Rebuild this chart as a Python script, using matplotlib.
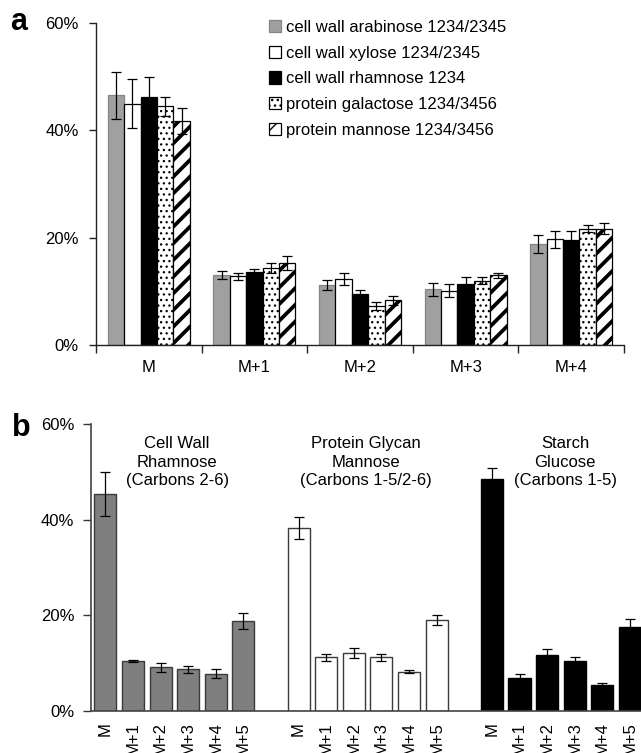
import numpy as np
import matplotlib
matplotlib.use("Agg")
import matplotlib.pyplot as plt
from matplotlib.ticker import FixedLocator, FuncFormatter

plt.rcParams['font.family'] = ['Liberation Sans', 'DejaVu Sans']

# ---- panel a: isotopomer distribution of five sugars ----
mass_a = ["M", "M+1", "M+2", "M+3", "M+4"]
series_a = ["cell wall arabinose 1234/2345",
            "cell wall xylose 1234/2345",
            "cell wall rhamnose 1234",
            "protein galactose 1234/3456",
            "protein mannose 1234/3456"]
arabinose = [46.5, 13.0, 11.2, 10.4, 18.8]
arabinose_err = [4.4, 0.7, 0.9, 1.2, 1.7]
xylose = [45.0, 12.8, 12.3, 10.1, 19.7]
xylose_err = [4.6, 0.7, 1.1, 1.2, 1.6]
rhamnose = [46.2, 13.6, 9.5, 11.4, 19.5]
rhamnose_err = [3.7, 0.5, 0.8, 1.2, 1.7]
galactose = [44.5, 14.3, 7.3, 12.0, 21.7]
galactose_err = [1.8, 0.9, 0.7, 0.6, 0.6]
mannose_a = [41.7, 15.2, 8.3, 13.0, 21.7]
mannose_a_err = [2.4, 1.3, 0.8, 0.5, 1.1]

# ---- panel b: M..M+5 distributions of three pools ----
mass_b = ["M", "M+1", "M+2", "M+3", "M+4", "M+5"]
groups_b = ["Cell Wall\nRhamnose\n(Carbons 2-6)",
            "Protein Glycan\nMannose\n(Carbons 1-5/2-6)",
            "Starch\nGlucose\n(Carbons 1-5)"]
rham_b = [45.4, 10.5, 9.1, 8.7, 7.8, 18.8]
rham_b_err = [4.6, 0.2, 1.0, 0.8, 1.0, 1.7]
mann_b = [38.2, 11.2, 12.1, 11.2, 8.2, 19.0]
mann_b_err = [2.3, 0.8, 1.0, 0.8, 0.3, 1.0]
gluc_b = [48.4, 7.0, 11.8, 10.4, 5.4, 17.6]
gluc_b_err = [2.4, 0.8, 1.2, 0.8, 0.4, 1.7]

W, H = 641, 753
fig = plt.figure(figsize=(W / 100, H / 100), dpi=100)


def px_axes(left, top, right, bottom):
    return fig.add_axes([left / W, 1 - bottom / H, (right - left) / W, (bottom - top) / H])


pct = FuncFormatter(lambda v, _: f"{v:.0f}%")
FS = 12

# ---------------- panel a ----------------
axa = px_axes(96, 23, 624, 345)
vals_a = [arabinose, xylose, rhamnose, galactose, mannose_a]
errs_a = [arabinose_err, xylose_err, rhamnose_err, galactose_err, mannose_a_err]
styles = [
    dict(facecolor="#a0a0a0", edgecolor="#858585", hatch=None, hlw=1.0),
    dict(facecolor="white", edgecolor="black", hatch=None, hlw=1.0),
    dict(facecolor="black", edgecolor="black", hatch=None, hlw=1.0),
    dict(facecolor="white", edgecolor="black", hatch="...", hlw=0.9),
    dict(facecolor="white", edgecolor="black", hatch="//", hlw=2.7),
]
bw = 0.155
x_a = np.arange(len(mass_a))
handles = []
for j, (v, e, st) in enumerate(zip(vals_a, errs_a, styles)):
    xs = x_a + 0.19 + j * bw
    plt.rcParams['hatch.linewidth'] = st["hlw"]
    bars = axa.bar(xs, v, width=bw, facecolor=st["facecolor"], edgecolor=st["edgecolor"],
                   hatch=st["hatch"], linewidth=0.9, label=series_a[j], zorder=2)
    for b in bars:
        if hasattr(b, "set_hatch_linewidth"):
            b.set_hatch_linewidth(st["hlw"])
    axa.errorbar(xs, v, yerr=e, fmt="none", ecolor="black", elinewidth=0.9,
                 capsize=3.5, capthick=0.9, zorder=3)
    handles.append(bars)

axa.set_xlim(0, len(mass_a))
axa.set_ylim(0, 60)
axa.yaxis.set_major_locator(FixedLocator([0, 20, 40, 60]))
axa.yaxis.set_major_formatter(pct)
axa.xaxis.set_major_locator(FixedLocator(np.arange(len(mass_a) + 1)))
axa.xaxis.set_major_formatter(FuncFormatter(lambda v, _: ""))
axa.xaxis.set_minor_locator(FixedLocator(x_a + 0.5))
axa.set_xticklabels(mass_a, minor=True)
axa.tick_params(axis="x", which="major", direction="out", length=6, width=1, color="#222222")
axa.tick_params(axis="x", which="minor", length=0, pad=11, labelsize=FS)
axa.tick_params(axis="y", direction="out", length=5, width=1, color="#222222", labelsize=FS, pad=7.5)
for s in ("top", "right"):
    axa.spines[s].set_visible(False)
for s in ("left", "bottom"):
    axa.spines[s].set_color("#222222")
    axa.spines[s].set_linewidth(1)

plt.rcParams['hatch.linewidth'] = 1.0
leg = axa.legend(handles=handles, loc="upper left",
                 bbox_to_anchor=(262 / W, 1 - 13 / H), bbox_transform=fig.transFigure,
                 frameon=False, fontsize=FS, handlelength=0.75, handleheight=0.75,
                 handletextpad=0.3, labelspacing=0.65, borderaxespad=0)

fig.text(10 / W, 1 - 22 / H, "a", fontsize=22, fontweight="bold", va="center", ha="left")

# ---------------- panel b ----------------
axb = px_axes(90.7, 424, 641, 711)
pos_start = [0, 7, 14]
vals_b = [rham_b, mann_b, gluc_b]
errs_b = [rham_b_err, mann_b_err, gluc_b_err]
fills_b = ["#7f7f7f", "white", "black"]
edges_b = ["#3a3a3a", "#3a3a3a", "black"]
title_x = [2.6, 9.45, 16.65]
ticks_b, labels_b = [], []
for g in range(3):
    xs = pos_start[g] + np.arange(len(mass_b))
    axb.bar(xs, vals_b[g], width=0.8, facecolor=fills_b[g], edgecolor=edges_b[g],
            linewidth=1.0, zorder=2)
    axb.errorbar(xs, vals_b[g], yerr=errs_b[g], fmt="none", ecolor="black",
                 elinewidth=0.9, capsize=3.5, capthick=0.9, zorder=3)
    axb.text(title_x[g], 57.5, groups_b[g], ha="center", va="top", fontsize=FS,
             linespacing=1.3)
    ticks_b.extend(xs)
    labels_b.extend(mass_b)

axb.set_xlim(-0.53, 19.4)
axb.set_ylim(0, 60)
axb.set_xticks(ticks_b)
axb.set_xticklabels(labels_b, rotation=90, fontsize=FS, va="top")
axb.tick_params(axis="x", length=0, pad=8)
axb.yaxis.set_major_locator(FixedLocator([0, 20, 40, 60]))
axb.yaxis.set_major_formatter(pct)
axb.tick_params(axis="y", direction="out", length=6, width=1, color="#333333", labelsize=FS, pad=5.8)
for s in ("top", "right"):
    axb.spines[s].set_visible(False)
for s in ("left", "bottom"):
    axb.spines[s].set_color("#444444")
    axb.spines[s].set_linewidth(1.2)

fig.text(12 / W, 1 - 428 / H, "b", fontsize=22, fontweight="bold", va="center", ha="left")

fig.savefig("out.png", dpi=100)
